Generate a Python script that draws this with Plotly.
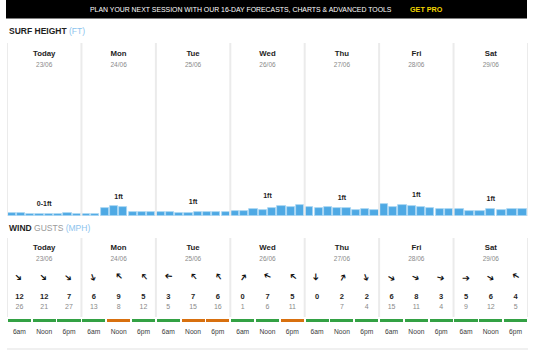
import plotly.graph_objects as go

# ---------------- data ----------------
days = ["Today", "Mon", "Tue", "Wed", "Thu", "Fri", "Sat"]
dates = ["23/06", "24/06", "25/06", "26/06", "27/06", "28/06", "29/06"]

surf_today = [0.30, 0.30, 0.26, 0.26, 0.26, 0.22, 0.30, 0.26]
surf_mon = [0.24, 0.24, 0.86, 1.11, 1.03, 0.48, 0.41, 0.41]
surf_tue = [0.41, 0.41, 0.37, 0.30, 0.41, 0.41, 0.48, 0.48]
surf_wed = [0.56, 0.56, 0.78, 0.70, 0.86, 1.08, 0.97, 1.19]
surf_thu = [0.97, 0.89, 1.00, 0.86, 0.86, 0.72, 0.81, 0.63]
surf_fri = [1.30, 1.03, 1.22, 1.08, 1.03, 0.89, 0.81, 0.78]
surf_sat = [0.78, 0.59, 0.52, 0.81, 0.67, 0.81, 0.74]
surf_days = [surf_today, surf_mon, surf_tue, surf_wed, surf_thu, surf_fri, surf_sat]
surf_labels = ["0-1ft", "1ft", "1ft", "1ft", "1ft", "1ft", "1ft"]

times = ["6am", "Noon", "6pm"]
wind_speed = [12, 12, 7, 6, 9, 5, 3, 7, 6, 0, 7, 5, 0, 2, 2, 6, 8, 3, 5, 6, 4]
wind_gust = [26, 21, 27, 13, 8, 12, 5, 15, 16, 1, 6, 11, None, 7, 4, 15, 11, 4, 9, 12, 5]
wind_dir = [135, 135, 130, 160, 315, 320, 275, 320, 325, 35, 295, 310,
            180, 30, 160, 120, 115, 105, 90, 120, 300]
wind_rating = ["good", "good", "good", "good", "poor", "good", "good", "poor", "poor",
               "good", "good", "poor", "good", "good", "good", "good", "good", "good",
               "good", "good", "good"]

# ---------------- style ----------------
FONT = "Liberation Sans"
DARK = "#1e1e1e"
GRAY = "#8a8a8a"
LIGHTBLUE = "#8cc4ee"
BAR = "#4ea9e4"
DIV = "#ebebeb"
RATING_COL = {"good": "#33a144", "poor": "#d8700f"}

W, H = 533, 351
X0, X1 = 7, 528

fig = go.Figure()

# surf bars
xs, ys, ws = [], [], []
for d, vals in enumerate(surf_days):
    n = len(vals)
    for i, v in enumerate(vals):
        xs.append(d + (i + 0.5) / n)
        ys.append(v)
        ws.append(0.88 / n)
fig.add_trace(go.Bar(x=xs, y=ys, width=ws, xaxis="x2", yaxis="y2",
                     marker=dict(color=BAR, line=dict(color="#a9d5f3", width=0.8)),
                     hoverinfo="skip", showlegend=False))

# surf labels
fig.add_trace(go.Scatter(
    x=[d + 0.5 for d in range(7)], y=[max(v) + 1.0 for v in surf_days],
    text=surf_labels, mode="text", xaxis="x2", yaxis="y2",
    textfont=dict(family=FONT, size=7, color=DARK, weight="bold"),
    hoverinfo="skip", showlegend=False))

centers = [d + 0.5 for d in range(7)]
# day headers (surf and wind)
for ytitle, ydate in [(54, 65), (248, 259)]:
    fig.add_trace(go.Scatter(x=centers, y=[ytitle] * 7, text=days, mode="text",
                             xaxis="x3", yaxis="y",
                             textfont=dict(family=FONT, size=7.8, color=DARK, weight="bold"),
                             hoverinfo="skip", showlegend=False))
    fig.add_trace(go.Scatter(x=centers, y=[ydate] * 7, text=dates, mode="text",
                             xaxis="x3", yaxis="y",
                             textfont=dict(family=FONT, size=6.5, color=GRAY),
                             hoverinfo="skip", showlegend=False))

# wind slots
slot_x = [d + (k + 0.5) / 3 for d in range(7) for k in range(3)]
fig.add_trace(go.Scatter(x=slot_x, y=[297] * 21, text=[str(v) for v in wind_speed],
                         mode="text", xaxis="x3", yaxis="y",
                         textfont=dict(family=FONT, size=7.5, color=DARK, weight="bold"),
                         hoverinfo="skip", showlegend=False))
fig.add_trace(go.Scatter(x=slot_x, y=[307] * 21,
                         text=["" if g is None else str(g) for g in wind_gust],
                         mode="text", xaxis="x3", yaxis="y",
                         textfont=dict(family=FONT, size=7, color=GRAY),
                         hoverinfo="skip", showlegend=False))
fig.add_trace(go.Scatter(x=slot_x, y=[332] * 21, text=times * 7,
                         mode="text", xaxis="x3", yaxis="y",
                         textfont=dict(family=FONT, size=6.7, color="#3a3a3a"),
                         hoverinfo="skip", showlegend=False))
fig.add_trace(go.Bar(x=slot_x, y=[3] * 21, base=[318.5] * 21, width=[0.31] * 21,
                     xaxis="x3", yaxis="y",
                     marker=dict(color=[RATING_COL[r] for r in wind_rating], line=dict(width=0)),
                     hoverinfo="skip", showlegend=False))

# wind arrows (rotated arrow glyphs; glyph points east = 90 deg)
annotations = []
for x, ang in zip(slot_x, wind_dir):
    annotations.append(dict(
        x=x, y=277, xref="x3", yref="y", text="➔", showarrow=False,
        textangle=ang - 90, xanchor="center", yanchor="middle",
        font=dict(family="DejaVu Sans", size=9.5, color="#111111")))

# headings
annotations += [
    dict(x=7, y=31, xref="x", yref="y", xanchor="left", yanchor="middle", showarrow=False,
         text="<b>SURF HEIGHT</b> <span style='color:%s'>(FT)</span>" % LIGHTBLUE,
         font=dict(family=FONT, size=8.5, color=DARK)),
    dict(x=7, y=228, xref="x", yref="y", xanchor="left", yanchor="middle", showarrow=False,
         text="<b>WIND</b> <span style='color:#9a9a9a'>GUSTS</span> <span style='color:%s'>(MPH)</span>" % LIGHTBLUE,
         font=dict(family=FONT, size=8.5, color=DARK)),
    dict(x=241, y=9.5, xref="x", yref="y", xanchor="center", yanchor="middle", showarrow=False,
         text="PLAN YOUR NEXT SESSION WITH OUR 16-DAY FORECASTS, CHARTS &amp; ADVANCED TOOLS",
         font=dict(family=FONT, size=6.9, color="#ffffff")),
    dict(x=426, y=9.5, xref="x", yref="y", xanchor="center", yanchor="middle", showarrow=False,
         text="<b>GET PRO</b>", font=dict(family=FONT, size=7.2, color="#f2d600")),
]

shapes = [dict(type="rect", xref="x", yref="y", x0=6, x1=527, y0=0, y1=18.5,
               fillcolor="#000000", line=dict(width=0), layer="below")]
for d in range(8):
    shapes.append(dict(type="line", xref="x3", yref="y", x0=d, x1=d, y0=43, y1=216,
                       line=dict(color=DIV, width=2), layer="below"))
    shapes.append(dict(type="line", xref="x3", yref="y", x0=d, x1=d, y0=238, y1=317,
                       line=dict(color=DIV, width=2), layer="below"))
shapes.append(dict(type="line", xref="x", yref="y", x0=X0, x1=X1, y0=349, y1=349,
                   line=dict(color=DIV, width=1.5), layer="below"))

xd = [X0 / W, X1 / W]
fig.update_layout(
    width=W, height=H, margin=dict(l=0, r=0, t=0, b=0),
    paper_bgcolor="white", plot_bgcolor="rgba(0,0,0,0)",
    showlegend=False, bargap=0,
    xaxis=dict(range=[0, W], domain=[0, 1], visible=False, fixedrange=True),
    yaxis=dict(range=[H, 0], domain=[0, 1], visible=False, fixedrange=True),
    xaxis2=dict(range=[0, 7], domain=xd, anchor="y2", visible=False, fixedrange=True),
    yaxis2=dict(range=[0, 141 / 9], domain=[1 - 216 / H, 1 - 75 / H], anchor="x2",
                visible=False, fixedrange=True),
    xaxis3=dict(range=[0, 7], domain=xd, anchor="y", visible=False, fixedrange=True),
    shapes=shapes, annotations=annotations,
)

fig.write_html("out.html")
